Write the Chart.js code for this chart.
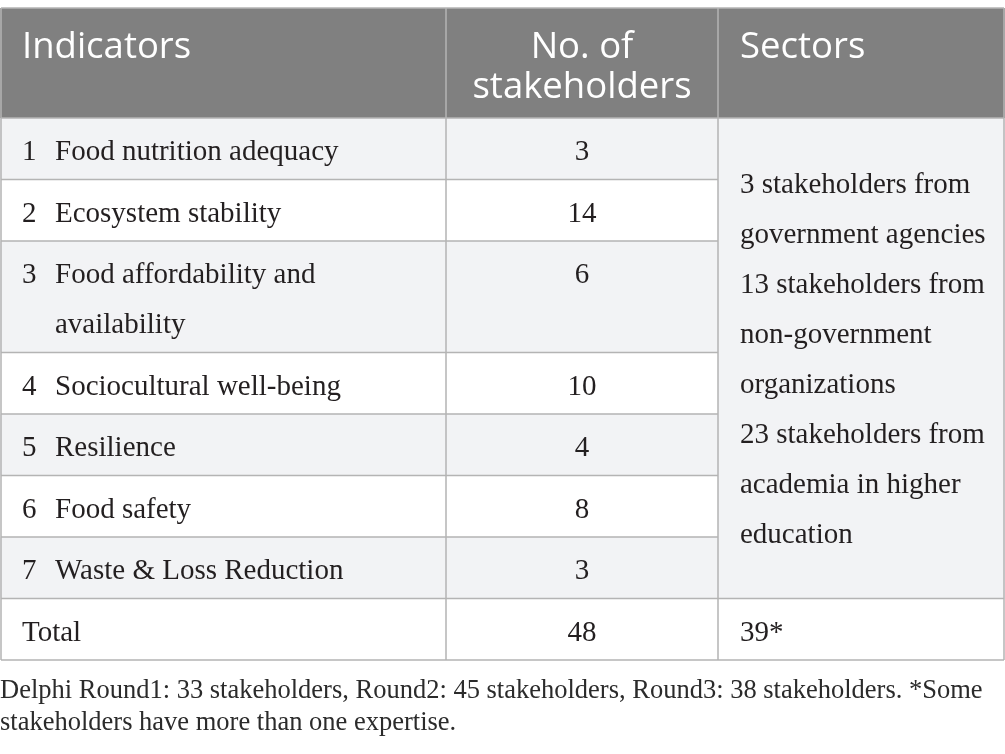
<!DOCTYPE html>
<html>
<head>
<meta charset="utf-8">
<script src="https://cdn.jsdelivr.net/npm/chart.js@4.4.1/dist/chart.umd.min.js"></script>
<style>
    html, body { margin: 0; padding: 0; background: #ffffff; }
    #wrap { width: 1005px; height: 754px; position: relative; }
</style>
</head>
<body>
<div id="wrap"><canvas id="tableChart"></canvas></div>
<script>
// table content
const headers = ['Indicators', 'No. of\nstakeholders', 'Sectors'];
const indicatorNums = ['1', '2', '3', '4', '5', '6', '7'];
const indicators = [
    'Food nutrition adequacy',
    'Ecosystem stability',
    'Food affordability and\navailability',
    'Sociocultural well-being',
    'Resilience',
    'Food safety',
    'Waste & Loss Reduction'
];
const stakeholderCounts = [3, 14, 6, 10, 4, 8, 3];
const totalLabel = 'Total';
const totalCount = 48;
const sectorTotal = '39*';
const sectorLines = [
    '3 stakeholders from',
    'government agencies',
    '13 stakeholders from',
    'non-government',
    'organizations',
    '23 stakeholders from',
    'academia in higher',
    'education'
];
const footnoteLines = [
    'Delphi Round1: 33 stakeholders, Round2: 45 stakeholders, Round3: 38 stakeholders. *Some',
    'stakeholders have more than one expertise.'
];

// layout (in scale units)
const W = 1005, H = 754;
const colEdges = [0, 446, 718, 1005];
const tableTop = 8;
const headerH = 110;
const lineH = 50;
const rowPad = 11.5;

const headerBg = '#808080';
const stripeBg = '#f2f3f5';
const gridColor = '#b4b4b4';
const textColor = '#231f20';
const serif = '"Liberation Serif", "DejaVu Serif", serif';
const sans = '"Open Sans", "Noto Sans", sans-serif';

function rowEdges() {
    const edges = [tableTop, tableTop + headerH];
    indicators.forEach(function(label) {
        const n = label.split('\n').length;
        edges.push(edges[edges.length - 1] + rowPad + n * lineH);
    });
    edges.push(edges[edges.length - 1] + rowPad + lineH);
    return edges;
}

const tablePlugin = {
    id: 'tablePlugin',
    afterDraw: function(chart) {
        const ctx = chart.ctx;
        const xs = chart.scales.x;
        const ys = chart.scales.y;
        const X = function(v) { return xs.getPixelForValue(v); };
        const Y = function(v) { return ys.getPixelForValue(v); };
        const rows = rowEdges();
        const nRows = indicators.length;
        const lastBody = rows[nRows + 1];

        ctx.save();

        // header band
        ctx.fillStyle = headerBg;
        ctx.fillRect(X(0), Y(rows[0]), X(W) - X(0), Y(rows[1]) - Y(rows[0]));

        // stripes on first two columns
        for (let i = 0; i < nRows; i++) {
            if (i % 2 === 0) {
                ctx.fillStyle = stripeBg;
                ctx.fillRect(X(colEdges[0]), Y(rows[i + 1]), X(colEdges[2]) - X(colEdges[0]), Y(rows[i + 2]) - Y(rows[i + 1]));
            }
        }
        // merged sectors cell
        ctx.fillStyle = stripeBg;
        ctx.fillRect(X(colEdges[2]), Y(rows[1]), X(colEdges[3]) - X(colEdges[2]), Y(lastBody) - Y(rows[1]));

        // grid lines
        ctx.strokeStyle = gridColor;
        ctx.lineWidth = 1.5;
        ctx.beginPath();
        for (let r = 0; r < rows.length; r++) {
            const y = Y(rows[r]);
            const right = (r > 1 && r < nRows + 1) ? X(colEdges[2]) : X(W - 1);
            ctx.moveTo(X(1), y);
            ctx.lineTo(right, y);
        }
        [1, 1004].forEach(function(v) {
            ctx.moveTo(X(v), Y(rows[0]));
            ctx.lineTo(X(v), Y(rows[rows.length - 1]));
        });
        [colEdges[1], colEdges[2]].forEach(function(v) {
            ctx.moveTo(X(v), Y(rows[0]));
            ctx.lineTo(X(v), Y(rows[rows.length - 1]));
        });
        ctx.stroke();

        // header text
        ctx.fillStyle = '#ffffff';
        ctx.font = '36.5px ' + sans;
        ctx.textBaseline = 'alphabetic';
        const headerLineH = 40;
        headers.forEach(function(h, c) {
            const lines = h.split('\n');
            lines.forEach(function(line, k) {
                const yb = Y(rows[0] + 50 + k * headerLineH);
                if (c === 1) {
                    ctx.textAlign = 'center';
                    ctx.fillText(line, X((colEdges[1] + colEdges[2]) / 2), yb);
                } else {
                    ctx.textAlign = 'left';
                    ctx.fillText(line, X(colEdges[c] + 22), yb);
                }
            });
        });

        // body text
        ctx.fillStyle = textColor;
        ctx.font = '29px ' + serif;
        for (let i = 0; i < nRows; i++) {
            const top = rows[i + 1];
            ctx.textAlign = 'left';
            ctx.fillText(indicatorNums[i], X(colEdges[0] + 22), Y(top + 42));
            indicators[i].split('\n').forEach(function(line, k) {
                ctx.fillText(line, X(colEdges[0] + 55), Y(top + 42 + k * lineH));
            });
            ctx.textAlign = 'center';
            ctx.fillText(String(stakeholderCounts[i]), X((colEdges[1] + colEdges[2]) / 2), Y(top + 42));
        }

        // sectors, centred in the merged cell
        ctx.textAlign = 'left';
        const mid = (rows[1] + lastBody) / 2;
        sectorLines.forEach(function(line, k) {
            const yb = mid + (k - (sectorLines.length - 1) / 2) * lineH + 10;
            ctx.fillText(line, X(colEdges[2] + 22), Y(yb));
        });

        // total row
        const tTop = rows[nRows + 1];
        ctx.fillText(totalLabel, X(colEdges[0] + 22), Y(tTop + 42));
        ctx.fillText(sectorTotal, X(colEdges[2] + 22), Y(tTop + 42));
        ctx.textAlign = 'center';
        ctx.fillText(String(totalCount), X((colEdges[1] + colEdges[2]) / 2), Y(tTop + 42));

        // footnote, sized so the first line fills the table width
        ctx.textAlign = 'left';
        ctx.font = '22px ' + serif;
        const fw = ctx.measureText(footnoteLines[0]).width;
        const fSize = Math.min(28, 22 * (X(983) - X(0)) / fw);
        ctx.font = fSize.toFixed(1) + 'px ' + serif;
        ctx.fillStyle = '#2b2b2b';
        footnoteLines.forEach(function(line, k) {
            ctx.fillText(line, X(0), Y(rows[rows.length - 1] + 38 + k * 32));
        });

        ctx.restore();
    }
};

const ctx = document.getElementById('tableChart').getContext('2d');
const chart = new Chart(ctx, {
    type: 'scatter',
    data: {
        datasets: [{
            label: 'cells',
            data: [],
            pointRadius: 0
        }]
    },
    options: {
        responsive: true,
        maintainAspectRatio: false,
        animation: false,
        events: [],
        layout: { padding: 0 },
        plugins: {
            legend: { display: false },
            tooltip: { enabled: false }
        },
        scales: {
            x: { type: 'linear', min: 0, max: W, display: false },
            y: { type: 'linear', min: 0, max: H, reverse: true, display: false }
        }
    },
    plugins: [tablePlugin]
});
</script>
</body>
</html>
